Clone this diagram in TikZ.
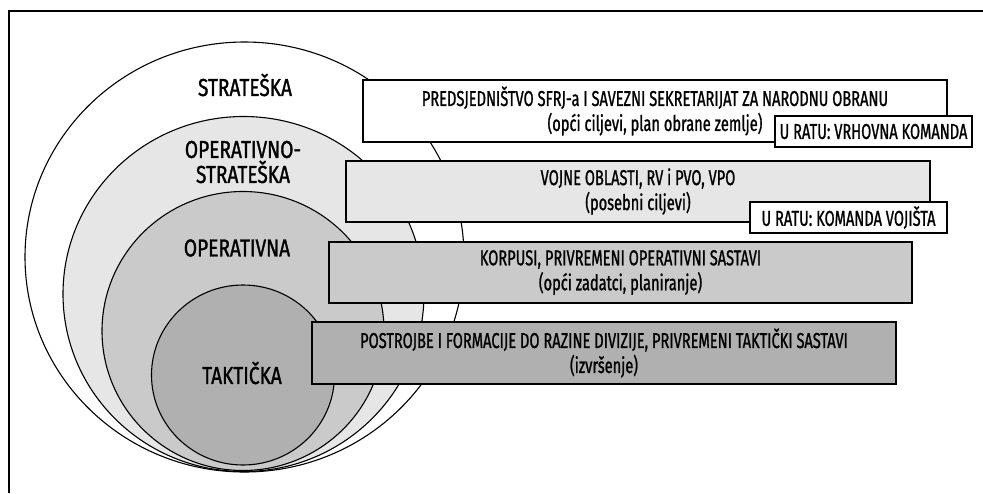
\documentclass[tikz,border=0pt]{standalone}
\usepackage{fontspec}
\setmainfont{Fira Sans}[FakeStretch=0.8]
\newfontfamily\razinafont{Fira Sans}[FakeStretch=0.78, FakeBold=1.2]
\newfontfamily\okvirfont{Fira Sans}[FakeStretch=0.68, FakeBold=1]
\definecolor{sivaA}{HTML}{E6E6E6}
\definecolor{sivaB}{HTML}{CACACA}
\definecolor{sivaC}{HTML}{B0B0B0}
\begin{document}
\begin{tikzpicture}[x=1pt, y=-1pt,
    krug/.style={draw, line width=1.1pt},
    razina/.style={font=\razinafont\fontsize{24.5}{25}\selectfont, align=center},
    okvir/.style={draw, line width=1.1pt, align=center, inner sep=0pt,
        font=\okvirfont\fontsize{21.5}{25}\selectfont},
    rat/.style={okvir, fill=white, minimum width=197pt, minimum height=31pt}]
    \useasboundingbox (0,0) rectangle (983,493);
    % okvir slike
    \draw[line width=1.3pt] (9,493) -- (9,11) -- (983,11);
    % razine
    \draw[krug, fill=white] (244.5,257) ellipse [x radius=219.5pt, y radius=215pt];
    \draw[krug, fill=sivaA] (243.5,294) ellipse [x radius=180.5pt, y radius=177.5pt];
    \draw[krug, fill=sivaB] (243,331) ellipse [x radius=141pt, y radius=139.5pt];
    \draw[krug, fill=sivaC] (243,375) ellipse [x radius=91.5pt, y radius=90pt];
    \node[razina] (strateska) at (245,85) {STRATEŠKA};
    \node[razina] (opstrat) at (243,162) {OPERATIVNO-\\STRATEŠKA};
    \node[razina] (operativna) at (237,248) {OPERATIVNA};
    \node[razina] (takticka) at (242,373) {TAKTIČKA};
    % zapovjedne razine
    \node[okvir, fill=white, minimum width=584pt, minimum height=62pt] (predsj) at (655,111)
        {PREDSJEDNIŠTVO SFRJ-a I SAVEZNI SEKRETARIJAT ZA NARODNU OBRANU\\(opći ciljevi, plan obrane zemlje)};
    \node[rat] (vrhovna) at (873.5,131.5) {U RATU: VRHOVNA KOMANDA};
    \node[okvir, fill=sivaA, minimum width=584pt, minimum height=61pt] (oblasti) at (638,191.5)
        {VOJNE OBLASTI, RV i PVO, VPO\\(posebni ciljevi)};
    \node[rat] (vojiste) at (848.5,217.5) {U RATU: KOMANDA VOJIŠTA};
    \node[okvir, fill=sivaB, minimum width=583pt, minimum height=61pt] (korpusi) at (620.5,272.5)
        {KORPUSI, PRIVREMENI OPERATIVNI SASTAVI\\(opći zadatci, planiranje)};
    \node[okvir, fill=sivaC, minimum width=584pt, minimum height=62pt] (postrojbe) at (604,353)
        {POSTROJBE I FORMACIJE DO RAZINE DIVIZIJE, PRIVREMENI TAKTIČKI SASTAVI\\(izvršenje)};
\end{tikzpicture}
\end{document}
